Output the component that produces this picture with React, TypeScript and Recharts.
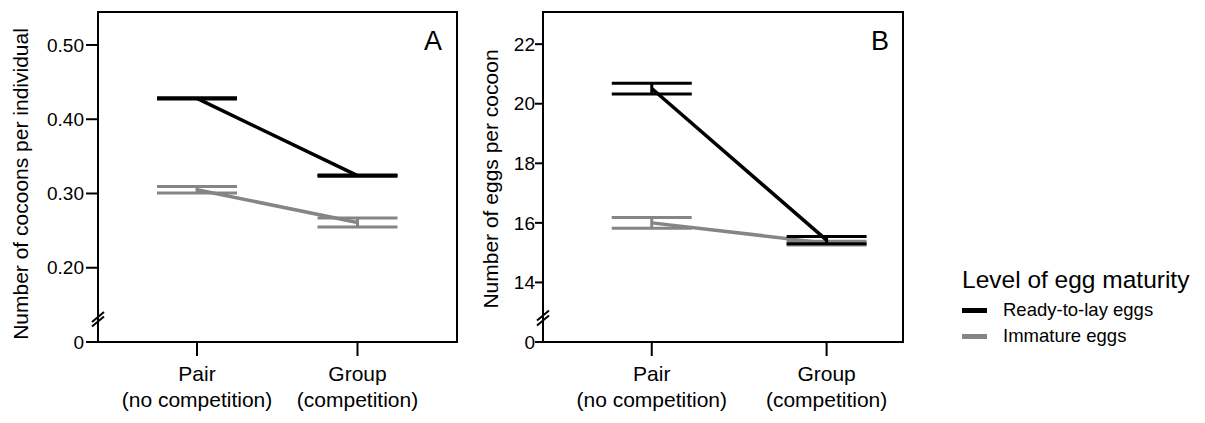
import { ErrorBar, Line, LineChart, ReferenceArea, ReferenceLine, XAxis, YAxis } from "recharts";

// treatments on the x axis (two lines per tick label)
const groupNames = ["Pair", "Group"];
const groupNotes = ["(no competition)", "(competition)"];

// panel A: cocoons per individual
const cocoonsReady = [0.428, 0.324];
const cocoonsReadyErr = [0.0008, 0.0008];
const cocoonsImmature = [0.305, 0.261];
const cocoonsImmatureErr = [0.0045, 0.006];
const cocoonTicks = [0.1, 0.2, 0.3, 0.4, 0.5];
const cocoonTickLabels = ["0", "0.20", "0.30", "0.40", "0.50"];

// panel B: eggs per cocoon
const eggsReady = [20.51, 15.42];
const eggsReadyErr = [0.18, 0.125];
const eggsImmature = [16.0, 15.32];
const eggsImmatureErr = [0.18, 0.06];
const eggTicks = [12, 14, 16, 18, 20, 22];
const eggTickLabels = ["0", "14", "16", "18", "20", "22"];

const seriesNames = ["Ready-to-lay eggs", "Immature eggs"];
const READY = "#000000";
const IMMATURE = "#858585";
const FONT = "'Liberation Sans', Arial, Helvetica, sans-serif";

const H = 423;
const TOP = 12;
const XAXIS_H = 81;

function GroupTick({ x, y, payload }: any) {
  const i = Math.round(payload.value);
  return (
    <text x={x} y={y} textAnchor="middle" fontFamily={FONT} fontSize={21} fill="#000">
      <tspan x={x} dy={23}>
        {groupNames[i]}
      </tspan>
      <tspan x={x} dy={26}>
        {groupNotes[i]}
      </tspan>
    </text>
  );
}

type PanelProps = {
  ready: number[];
  readyErr: number[];
  immature: number[];
  immatureErr: number[];
  ticks: number[];
  tickLabels: string[];
  yDomain: [number, number];
  xDomain: [number, number];
  width: number;
  yAxisWidth: number;
  marginRight: number;
  yTickSize: number;
  yTickMargin: number;
  breaks: number[];
};

function Panel(p: PanelProps) {
  const data = groupNames.map((_, i) => ({
    x: i,
    ready: p.ready[i],
    readyErr: p.readyErr[i],
    immature: p.immature[i],
    immatureErr: p.immatureErr[i],
  }));
  const plotW = p.width - p.yAxisWidth - p.marginRight;
  const plotH = H - TOP - XAXIS_H;
  const pxX = (p.xDomain[1] - p.xDomain[0]) / plotW;
  const pxY = (p.yDomain[1] - p.yDomain[0]) / plotH;
  const x0 = p.xDomain[0];

  return (
    <LineChart
      width={p.width}
      height={H}
      data={data}
      margin={{ top: TOP, right: p.marginRight, left: 0, bottom: 0 }}
    >
      <XAxis
        type="number"
        dataKey="x"
        domain={p.xDomain}
        ticks={[0, 1]}
        allowDataOverflow
        height={XAXIS_H}
        tickSize={14}
        tickMargin={2}
        axisLine={{ stroke: "#000", strokeWidth: 2 }}
        tickLine={{ stroke: "#000", strokeWidth: 2 }}
        tick={<GroupTick />}
      />
      <YAxis
        type="number"
        domain={p.yDomain}
        ticks={p.ticks}
        allowDataOverflow
        width={p.yAxisWidth}
        tickSize={p.yTickSize}
        tickMargin={p.yTickMargin}
        axisLine={{ stroke: "#000", strokeWidth: 2 }}
        tickLine={{ stroke: "#000", strokeWidth: 2 }}
        tick={{ fontSize: 19, fill: "#000", fontFamily: FONT }}
        tickFormatter={(v: number) => p.tickLabels[p.ticks.indexOf(v)] ?? ""}
      />
      <ReferenceArea
        x1={p.xDomain[0]}
        x2={p.xDomain[1]}
        y1={p.yDomain[0]}
        y2={p.yDomain[1]}
        fill="none"
        stroke="#000"
        strokeWidth={2}
        ifOverflow="visible"
      />
      {p.breaks.map((b) => (
        <ReferenceLine
          key={b}
          segment={[
            { x: x0 - 6 * pxX, y: b - 5 * pxY },
            { x: x0 + 6 * pxX, y: b + 5 * pxY },
          ]}
          stroke="#000"
          strokeWidth={2}
          ifOverflow="visible"
        />
      ))}
      <Line
        type="linear"
        dataKey="immature"
        stroke={IMMATURE}
        strokeWidth={3.5}
        dot={false}
        isAnimationActive={false}
      >
        <ErrorBar dataKey="immatureErr" width={40} stroke={IMMATURE} strokeWidth={3} isAnimationActive={false} />
      </Line>
      <Line
        type="linear"
        dataKey="ready"
        stroke={READY}
        strokeWidth={3.5}
        dot={false}
        isAnimationActive={false}
      >
        <ErrorBar dataKey="readyErr" width={40} stroke={READY} strokeWidth={3} isAnimationActive={false} />
      </Line>
    </LineChart>
  );
}

export default function App() {
  return (
    <div
      style={{
        position: "absolute",
        left: 0,
        top: 0,
        width: 1205,
        height: H,
        background: "#fff",
        fontFamily: FONT,
      }}
    >
      <div style={{ position: "absolute", left: 0, top: 0 }}>
        <Panel
          ready={cocoonsReady}
          readyErr={cocoonsReadyErr}
          immature={cocoonsImmature}
          immatureErr={cocoonsImmatureErr}
          ticks={cocoonTicks}
          tickLabels={cocoonTickLabels}
          yDomain={[0.1, 0.5444]}
          xDomain={[-0.617, 1.62]}
          width={470}
          yAxisWidth={98}
          marginRight={13}
          yTickSize={12}
          yTickMargin={2}
          breaks={[0.1276, 0.1336]}
        />
      </div>
      <div style={{ position: "absolute", left: 470, top: 0 }}>
        <Panel
          ready={eggsReady}
          readyErr={eggsReadyErr}
          immature={eggsImmature}
          immatureErr={eggsImmatureErr}
          ticks={eggTicks}
          tickLabels={eggTickLabels}
          yDomain={[12, 23.08]}
          xDomain={[-0.622, 1.437]}
          width={470}
          yAxisWidth={73}
          marginRight={37}
          yTickSize={8}
          yTickMargin={0}
          breaks={[12.72, 12.89]}
        />
      </div>
      <svg
        width={1205}
        height={H}
        style={{ position: "absolute", left: 0, top: 0, pointerEvents: "none" }}
        fontFamily={FONT}
      >
        <text transform="translate(28,184) rotate(-90)" textAnchor="middle" fontSize={21}>
          Number of cocoons per individual
        </text>
        <text transform="translate(498,179) rotate(-90)" textAnchor="middle" fontSize={21}>
          Number of eggs per cocoon
        </text>
        <text x={433} y={50} textAnchor="middle" fontSize={27}>
          A
        </text>
        <text x={880} y={50} textAnchor="middle" fontSize={27}>
          B
        </text>
        <text x={962} y={288} fontSize={24.5}>
          Level of egg maturity
        </text>
        <rect x={962} y={308} width={25} height={5} fill={READY} />
        <text x={1003} y={315.5} fontSize={18.5}>
          {seriesNames[0]}
        </text>
        <rect x={962} y={334} width={25} height={5} fill={IMMATURE} />
        <text x={1003} y={341.5} fontSize={18.5}>
          {seriesNames[1]}
        </text>
      </svg>
    </div>
  );
}
